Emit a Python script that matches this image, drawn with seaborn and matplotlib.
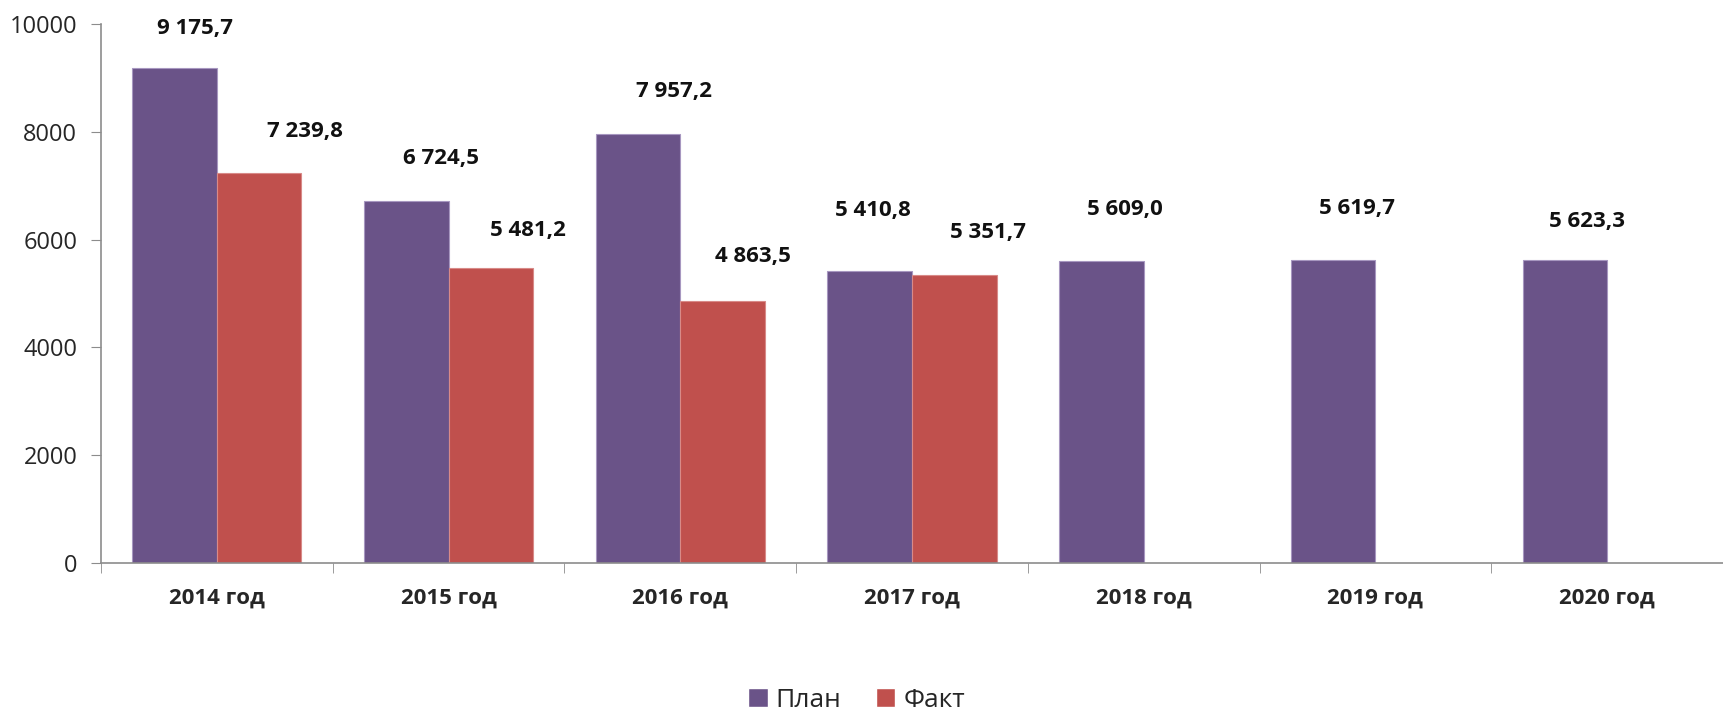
import pandas as pd
import seaborn as sns
import matplotlib.pyplot as plt

years = ["2014 год", "2015 год", "2016 год", "2017 год", "2018 год", "2019 год", "2020 год"]
plan = [9175.7, 6724.5, 7957.2, 5410.8, 5609.0, 5619.7, 5623.3]
fakt = [7239.8, 5481.2, 4863.5, 5351.7]
series = ["План", "Факт"]

# label offsets (points) for each value, like Excel put them
plan_off = [(15, 29), (25, 30), (26, 31), (2, 44), (17, 37), (17, 37), (16, 28)]
fakt_off = [(33, 30), (27, 27), (22, 32), (24, 30)]

rows = []
for i, y in enumerate(years):
    rows.append({"год": y, "ряд": "План", "значение": plan[i]})
    if i < len(fakt):
        rows.append({"год": y, "ряд": "Факт", "значение": fakt[i]})
df = pd.DataFrame(rows)

sns.set_style("white")
plt.rcParams["font.family"] = ["Open Sans", "DejaVu Sans"]

fig = plt.figure(figsize=(17.23, 7.16), dpi=100)
ax = fig.add_axes([0.0586, 0.2137, 0.9414, 0.7528])

colors = {"План": "#6A5388", "Факт": "#C0504D"}
sns.barplot(data=df, x="год", y="значение", hue="ряд", hue_order=series,
            order=years, palette=colors, width=0.73, saturation=1,
            errorbar=None, ax=ax)

edge = {"План": "#A797C0", "Факт": "#D88A88"}
for cont, name in zip(ax.containers, series):
    for p in cont:
        p.set_edgecolor(edge[name])
        p.set_linewidth(0.8)

def fmt(v):
    return f"{v:,.1f}".replace(",", " ").replace(".", ",")

for cont, vals, offs in zip(ax.containers, [plan, fakt], [plan_off, fakt_off]):
    for p, v, o in zip(cont, vals, offs):
        x = p.get_x() + p.get_width() / 2
        ax.annotate(fmt(v), (x, v), xytext=o, textcoords="offset points",
                    ha="center", va="center", fontsize=16, fontweight="bold",
                    color="#111111")

ax.set_ylim(0, 10000)
ax.set_yticks([0, 2000, 4000, 6000, 8000, 10000])
ax.set_xlim(-0.5, 6.5)
ax.set_xlabel("")
ax.set_ylabel("")
for s in ["top", "right"]:
    ax.spines[s].set_visible(False)
for s in ["left", "bottom"]:
    ax.spines[s].set_color("#8C8C8C")
    ax.spines[s].set_linewidth(1.2)

ax.tick_params(axis="y", which="major", left=True, length=7, color="#8C8C8C",
               labelsize=17, pad=10)
ax.tick_params(axis="x", which="major", length=0, labelsize=16, pad=18)
ax.set_xticks([i - 0.5 for i in range(8)], minor=True)
ax.tick_params(axis="x", which="minor", bottom=True, length=7, color="#8C8C8C")
for lab in ax.get_xticklabels():
    lab.set_fontweight("bold")

handles, labels = ax.get_legend_handles_labels()
ax.legend_.remove()
fig.legend(handles, labels, loc="center", bbox_to_anchor=(0.497, 0.022),
           ncol=2, frameon=False, fontsize=19, handlelength=0.75,
           handleheight=0.75, handletextpad=0.3, columnspacing=1.3)

fig.savefig("out.png", dpi=100)
